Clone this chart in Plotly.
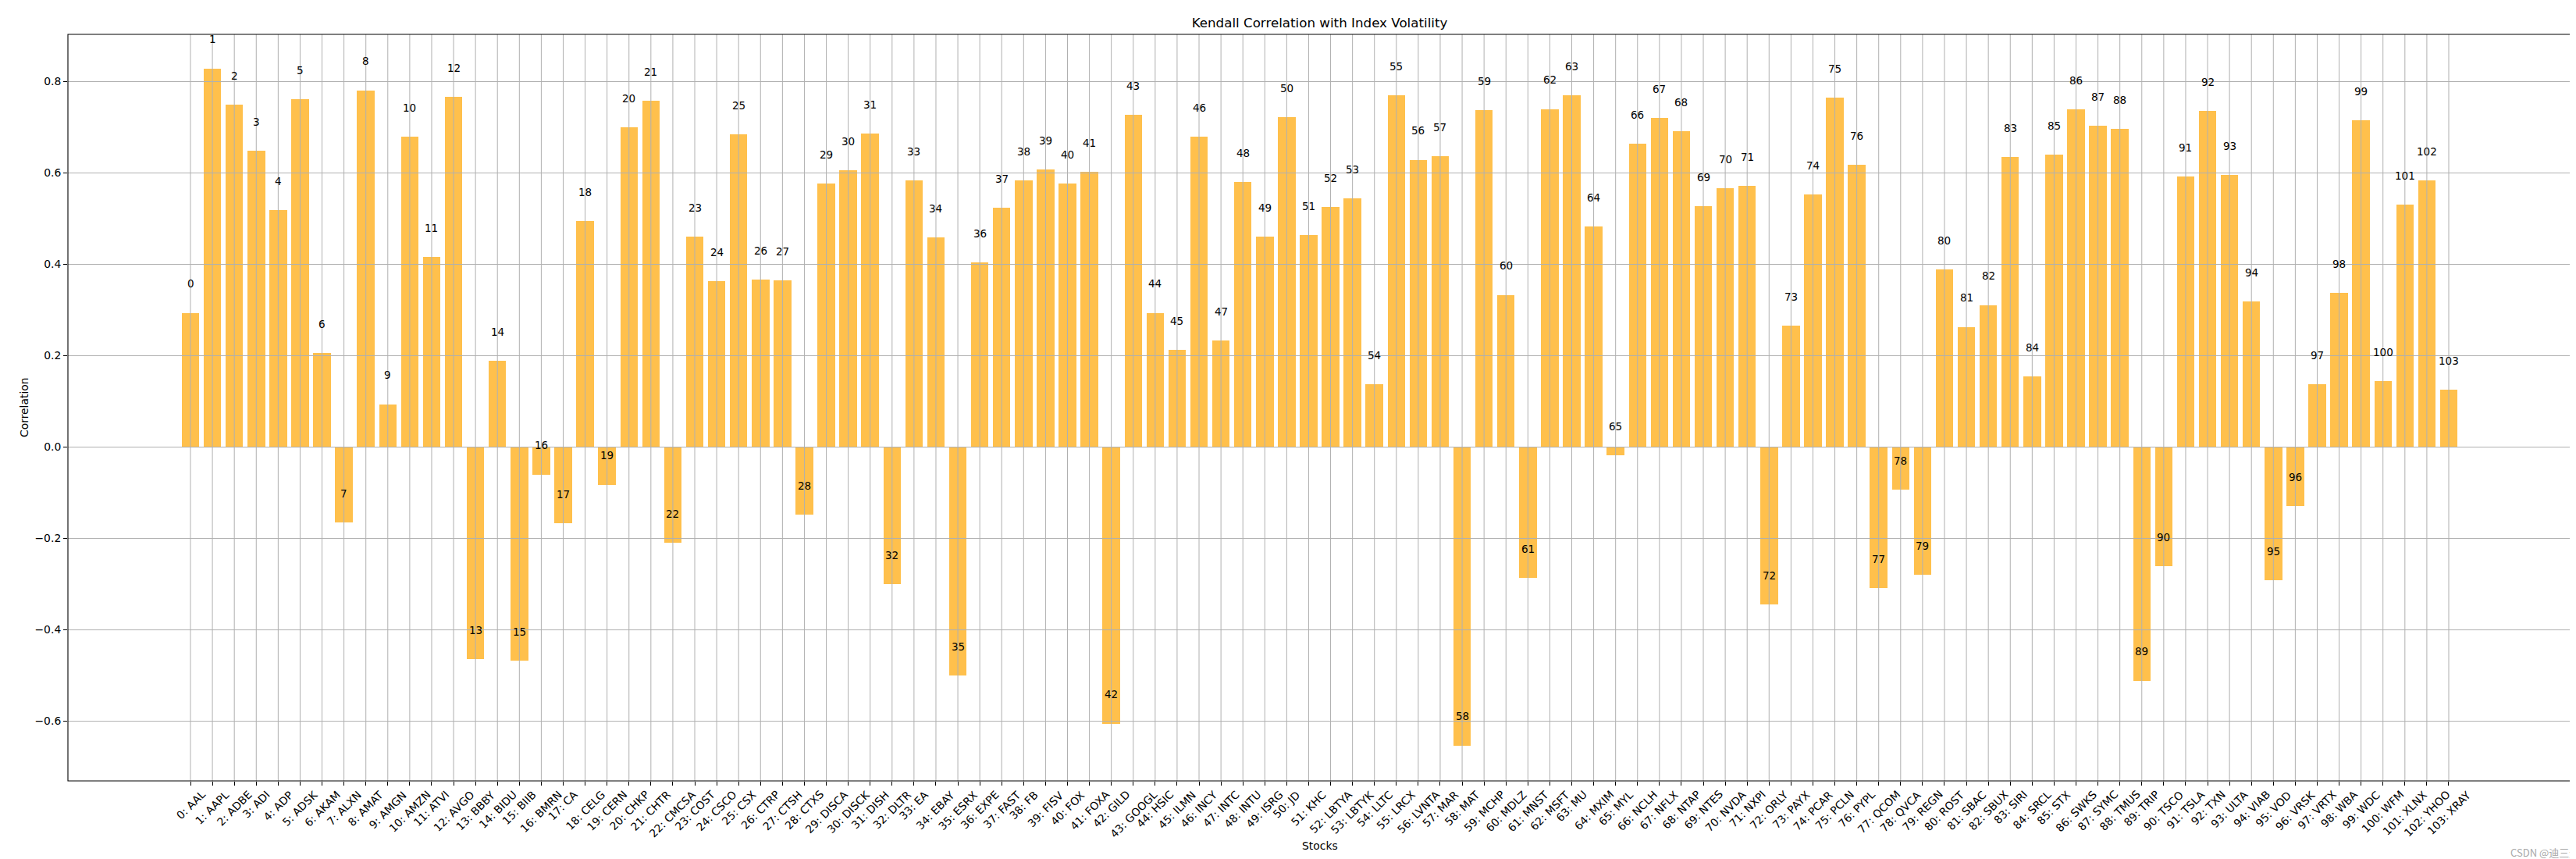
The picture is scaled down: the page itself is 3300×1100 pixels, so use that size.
import plotly.graph_objects as go

tickers = ["AAL", "AAPL", "ADBE", "ADI", "ADP", "ADSK", "AKAM", "ALXN", "AMAT", "AMGN",
           "AMZN", "ATVI", "AVGO", "BBBY", "BIDU", "BIIB", "BMRN", "CA", "CELG", "CERN",
           "CHKP", "CHTR", "CMCSA", "COST", "CSCO", "CSX", "CTRP", "CTSH", "CTXS", "DISCA",
           "DISCK", "DISH", "DLTR", "EA", "EBAY", "ESRX", "EXPE", "FAST", "FB", "FISV",
           "FOX", "FOXA", "GILD", "GOOGL", "HSIC", "ILMN", "INCY", "INTC", "INTU", "ISRG",
           "JD", "KHC", "LBTYA", "LBTYK", "LLTC", "LRCX", "LVNTA", "MAR", "MAT", "MCHP",
           "MDLZ", "MNST", "MSFT", "MU", "MXIM", "MYL", "NCLH", "NFLX", "NTAP", "NTES",
           "NVDA", "NXPI", "ORLY", "PAYX", "PCAR", "PCLN", "PYPL", "QCOM", "QVCA", "REGN",
           "ROST", "SBAC", "SBUX", "SIRI", "SRCL", "STX", "SWKS", "SYMC", "TMUS", "TRIP",
           "TSCO", "TSLA", "TXN", "ULTA", "VIAB", "VOD", "VRSK", "VRTX", "WBA", "WDC",
           "WFM", "XLNX", "YHOO", "XRAY"]

correlation = [0.294, 0.829, 0.749, 0.648, 0.519, 0.761, 0.206, -0.165, 0.781, 0.094,
               0.679, 0.416, 0.767, -0.464, 0.189, -0.467, -0.060, -0.167, 0.495, -0.082,
               0.700, 0.758, -0.209, 0.460, 0.363, 0.684, 0.366, 0.365, -0.148, 0.577,
               0.606, 0.686, -0.300, 0.584, 0.459, -0.500, 0.404, 0.524, 0.584, 0.607,
               0.577, 0.602, -0.605, 0.727, 0.294, 0.213, 0.679, 0.233, 0.580, 0.460,
               0.722, 0.464, 0.526, 0.544, 0.138, 0.770, 0.629, 0.637, -0.653, 0.737,
               0.333, -0.287, 0.740, 0.770, 0.483, -0.018, 0.664, 0.720, 0.691, 0.527,
               0.566, 0.571, -0.344, 0.266, 0.553, 0.765, 0.618, -0.309, -0.093, -0.279,
               0.389, 0.263, 0.311, 0.635, 0.155, 0.640, 0.739, 0.703, 0.696, -0.511,
               -0.261, 0.592, 0.736, 0.596, 0.319, -0.291, -0.129, 0.138, 0.338, 0.715,
               0.144, 0.531, 0.584, 0.125]

y_ticks = [-0.6, -0.4, -0.2, 0.0, 0.2, 0.4, 0.6, 0.8]

positions = list(range(len(tickers)))
tick_labels = [f"{i}: {t}" for i, t in zip(positions, tickers)]

FONT = "DejaVu Sans"
GRID = "#b0b0b0"

fig = go.Figure()
fig.add_trace(go.Bar(
    x=positions, y=correlation, width=0.8,
    marker=dict(color="rgba(255,165,0,0.7)", line=dict(width=0)),
    showlegend=False, hoverinfo="skip",
))

shapes = []
for p in positions:
    shapes.append(dict(type="line", xref="x", yref="paper", x0=p, x1=p, y0=0, y1=1,
                       line=dict(color=GRID, width=1), layer="above"))
for t in y_ticks:
    shapes.append(dict(type="line", xref="paper", yref="y", x0=0, x1=1, y0=t, y1=t,
                       line=dict(color=GRID, width=1), layer="above"))
# axes frame
shapes.append(dict(type="rect", xref="paper", yref="paper", x0=0, x1=1, y0=0, y1=1,
                   line=dict(color="black", width=1.1), layer="above"))

annotations = []
for p, v in zip(positions, correlation):
    annotations.append(dict(x=p, y=v + 0.05, xref="x", yref="y", text=str(p),
                            showarrow=False, xanchor="center", yanchor="middle",
                            yshift=8, font=dict(family=FONT, size=13.5, color="black")))
for p, lab in zip(positions, tick_labels):
    annotations.append(dict(x=p, y=0, xref="x", yref="paper", text=lab,
                            showarrow=False, xanchor="center", yanchor="top",
                            textangle=-45, yshift=-8, borderpad=0,
                            font=dict(family=FONT, size=13.9, color="black")))
annotations.append(dict(x=0.5, y=0, xref="paper", yref="paper", text="Stocks",
                        showarrow=False, xanchor="center", yanchor="middle", yshift=-83,
                        font=dict(family=FONT, size=13.9, color="black")))
annotations.append(dict(x=0, y=0.5, xref="paper", yref="paper", text="Correlation",
                        showarrow=False, xanchor="center", yanchor="middle", xshift=-56,
                        textangle=-90, font=dict(family=FONT, size=13.9, color="black")))
annotations.append(dict(x=1, y=0, xref="paper", yref="paper", text="CSDN @迪三达",
                        showarrow=False, xanchor="right", yanchor="middle", xshift=12, yshift=-91,
                        font=dict(family="Noto Sans CJK SC", size=13, color="#a8a8a8")))

fig.update_layout(
    width=3300, height=1100,
    margin=dict(l=79, r=14, t=36, b=108, pad=0),
    paper_bgcolor="white", plot_bgcolor="white",
    title=dict(text="Kendall Correlation with Index Volatility", x=0.5, xref="paper",
               y=1 - 21 / 1100, yref="container", xanchor="center", yanchor="middle",
               font=dict(family=FONT, size=16.7, color="black")),
    xaxis=dict(range=[-5.59, 108.59], tickmode="array", tickvals=positions,
               showticklabels=False, ticks="outside", ticklen=5, tickwidth=1,
               tickcolor="black", showgrid=False, zeroline=False, showline=False),
    yaxis=dict(range=[-0.7306, 0.9034], tickmode="array", tickvals=y_ticks,
               ticktext=[f"{t:.1f}".replace("-", "\u2212") for t in y_ticks],
               ticks="outside", ticklen=5, tickwidth=1, tickcolor="black",
               tickfont=dict(family=FONT, size=13.9, color="black"),
               showgrid=False, zeroline=False, showline=False),
    shapes=shapes, annotations=annotations, bargap=0,
)

fig.write_html("out.html")
